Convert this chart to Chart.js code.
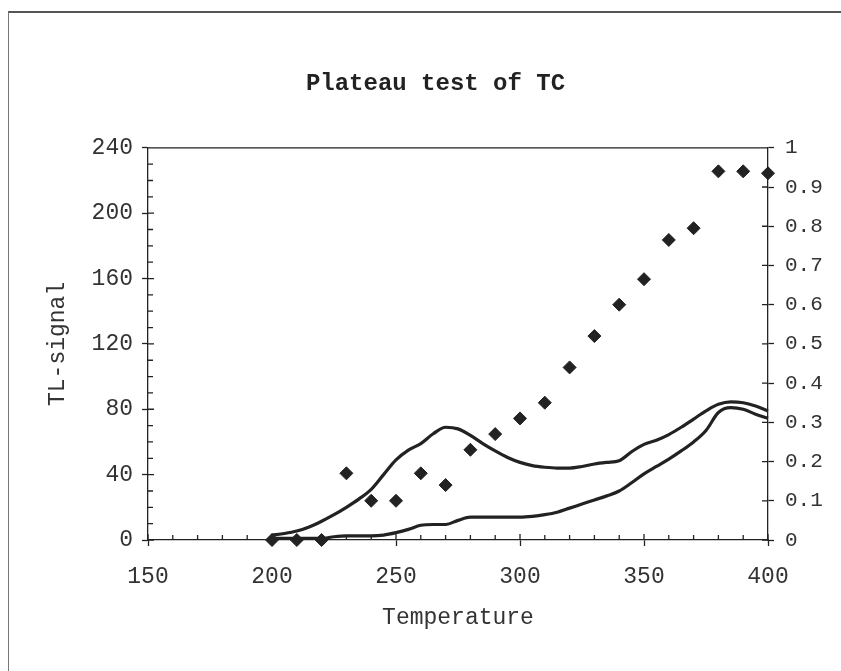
<!DOCTYPE html>
<html>
<head>
<meta charset="utf-8">
<title>Plateau test of TC</title>
<script src="https://cdn.jsdelivr.net/npm/chart.js@4.4.1/dist/chart.umd.min.js"></script>
<style>
  html, body { margin: 0; padding: 0; background: #fff; }
  #wrap { position: relative; width: 841px; height: 671px; overflow: hidden; }
  #frame {
    position: absolute; left: 8px; top: 11px; width: 900px; height: 700px;
    border-top: 2px solid #555; border-left: 1px solid #777;
  }
  #myCanvas { position: absolute; left: 0; top: 0; }
</style>
</head>
<body>
<div id="wrap">
  <div id="frame"></div>
  <canvas id="myCanvas" width="841" height="671"></canvas>
</div>
<script>
// temperatures for the two TL glow curves (every 5 degrees)
const curveTemps = [200, 205, 210, 215, 220, 225, 230, 235, 240, 245, 250, 255, 260, 265, 270, 275, 280,
  285, 290, 295, 300, 305, 310, 315, 320, 325, 330, 335, 340, 345, 350, 355, 360, 365, 370, 375, 380,
  385, 390, 395, 400];
const upperCurve = [3, 4, 5.5, 8, 11.5, 15.5, 20, 25, 31, 40, 49, 55, 59, 65, 69, 68, 64,
  59, 54.5, 50.5, 47.5, 45.5, 44.5, 44, 44, 45, 46.5, 47.5, 48.5, 54, 58.5, 61, 64.5, 69, 74, 79, 83,
  84.5, 84, 82, 79];
const lowerCurve = [1, 1, 1, 1, 1, 2, 2.5, 2.5, 2.5, 3, 4.5, 6.5, 9, 9.5, 9.5, 12, 14,
  14, 14, 14, 14, 14.5, 15.5, 17, 19.5, 22, 24.5, 27, 30, 35, 40.5, 45, 49.5, 54.5, 60, 67, 78,
  81, 80, 77, 74.5];

// ratio points (right axis)
const ratioTemps = [200, 210, 220, 230, 240, 250, 260, 270, 280, 290, 300, 310, 320, 330, 340, 350,
  360, 370, 380, 390, 400];
const ratioValues = [0, 0, 0, 0.17, 0.1, 0.1, 0.17, 0.14, 0.23, 0.27, 0.31, 0.35, 0.44, 0.52, 0.6, 0.665,
  0.765, 0.795, 0.94, 0.94, 0.935];

const xTicks = [150, 200, 250, 300, 350, 400];
const leftTicks = [0, 40, 80, 120, 160, 200, 240];

const monoFont = "'Liberation Mono', 'Courier New', monospace";
const ink = "#222";
const textInk = "#333";

const toPoints = (xs, ys) => xs.map((x, i) => ({ x: x, y: ys[i] }));

// inner tick marks and the top frame line of the plot box
const tickPlugin = {
  id: "innerTicks",
  afterDraw(chart) {
    const { ctx, chartArea } = chart;
    const x = chart.scales.x;
    const y = chart.scales.y;
    const y1 = chart.scales.y1;
    ctx.save();
    ctx.strokeStyle = ink;
    ctx.lineWidth = 1.3;
    ctx.beginPath();
    ctx.moveTo(chartArea.left, chartArea.top);
    ctx.lineTo(chartArea.right, chartArea.top);
    for (let t = x.min; t <= x.max; t += 10) {
      const px = x.getPixelForValue(t);
      ctx.moveTo(px, chartArea.bottom);
      ctx.lineTo(px, chartArea.bottom - (t % 50 === 0 ? 6 : 5));
    }
    for (let v = y.min; v <= y.max; v += 10) {
      const py = y.getPixelForValue(v);
      ctx.moveTo(chartArea.left, py);
      ctx.lineTo(chartArea.left + (v % 40 === 0 ? 6 : 5), py);
    }
    for (let k = 0; k <= 10; k++) {
      const py = y1.getPixelForValue(k / 10);
      ctx.moveTo(chartArea.right, py);
      ctx.lineTo(chartArea.right - 6, py);
    }
    ctx.stroke();
    ctx.restore();
  },
};

const axisGrid = {
  display: true,
  drawOnChartArea: false,
  drawTicks: true,
  tickLength: 6,
  tickWidth: 1.3,
  tickColor: ink,
};

const bar = document.getElementById("myCanvas");
const chart = new Chart(bar, {
  type: "scatter",
  data: {
    datasets: [
      {
        label: "ratio",
        data: toPoints(ratioTemps, ratioValues),
        yAxisID: "y1",
        pointStyle: "rectRot",
        pointRadius: 6.5,
        pointBackgroundColor: ink,
        pointBorderColor: ink,
        showLine: false,
        clip: false,
        order: 0,
      },
      {
        label: "upper",
        data: toPoints(curveTemps, upperCurve),
        yAxisID: "y",
        showLine: true,
        pointRadius: 0,
        borderColor: ink,
        borderWidth: 3.2,
        tension: 0.4,
        cubicInterpolationMode: "monotone",
        clip: false,
        order: 1,
      },
      {
        label: "lower",
        data: toPoints(curveTemps, lowerCurve),
        yAxisID: "y",
        showLine: true,
        pointRadius: 0,
        borderColor: ink,
        borderWidth: 3.2,
        tension: 0.4,
        cubicInterpolationMode: "monotone",
        clip: false,
        order: 2,
      },
    ],
  },
  options: {
    responsive: false,
    animation: false,
    layout: { padding: { top: 0, left: 40, right: 10, bottom: 35 } },
    plugins: {
      legend: { display: false },
      tooltip: { enabled: false },
      title: {
        display: true,
        text: "Plateau test of TC",
        color: "#222",
        font: { family: monoFont, size: 24, weight: "bold" },
        padding: { top: 70, bottom: 49 },
      },
    },
    scales: {
      x: {
        type: "linear",
        position: "bottom",
        min: 150,
        max: 400,
        afterFit: (scale) => { scale.height = 96; },
        afterBuildTicks: (scale) => { scale.ticks = xTicks.map((v) => ({ value: v })); },
        ticks: { color: textInk, font: { family: monoFont, size: 23 }, padding: 17, maxRotation: 0 },
        grid: axisGrid,
        border: { display: true, color: ink, width: 1.3 },
        title: {
          display: true,
          text: "Temperature",
          color: textInk,
          font: { family: monoFont, size: 23 },
        },
      },
      y: {
        type: "linear",
        position: "left",
        min: 0,
        max: 240,
        afterFit: (scale) => { scale.width = 108; },
        afterBuildTicks: (scale) => { scale.ticks = leftTicks.map((v) => ({ value: v })); },
        ticks: { color: textInk, font: { family: monoFont, size: 23 }, padding: 9 },
        grid: axisGrid,
        border: { display: true, color: ink, width: 1.3 },
        title: {
          display: true,
          text: "TL-signal",
          color: textInk,
          font: { family: monoFont, size: 23 },
        },
      },
      y1: {
        type: "linear",
        position: "right",
        min: 0,
        max: 1,
        afterFit: (scale) => { scale.width = 63; },
        ticks: {
          stepSize: 0.1,
          color: textInk,
          font: { family: monoFont, size: 21 },
          padding: 11,
          callback: (v) => Number(v.toFixed(1)).toString(),
        },
        grid: axisGrid,
        border: { display: true, color: ink, width: 1.3 },
      },
    },
  },
  plugins: [tickPlugin],
});
</script>
</body>
</html>
